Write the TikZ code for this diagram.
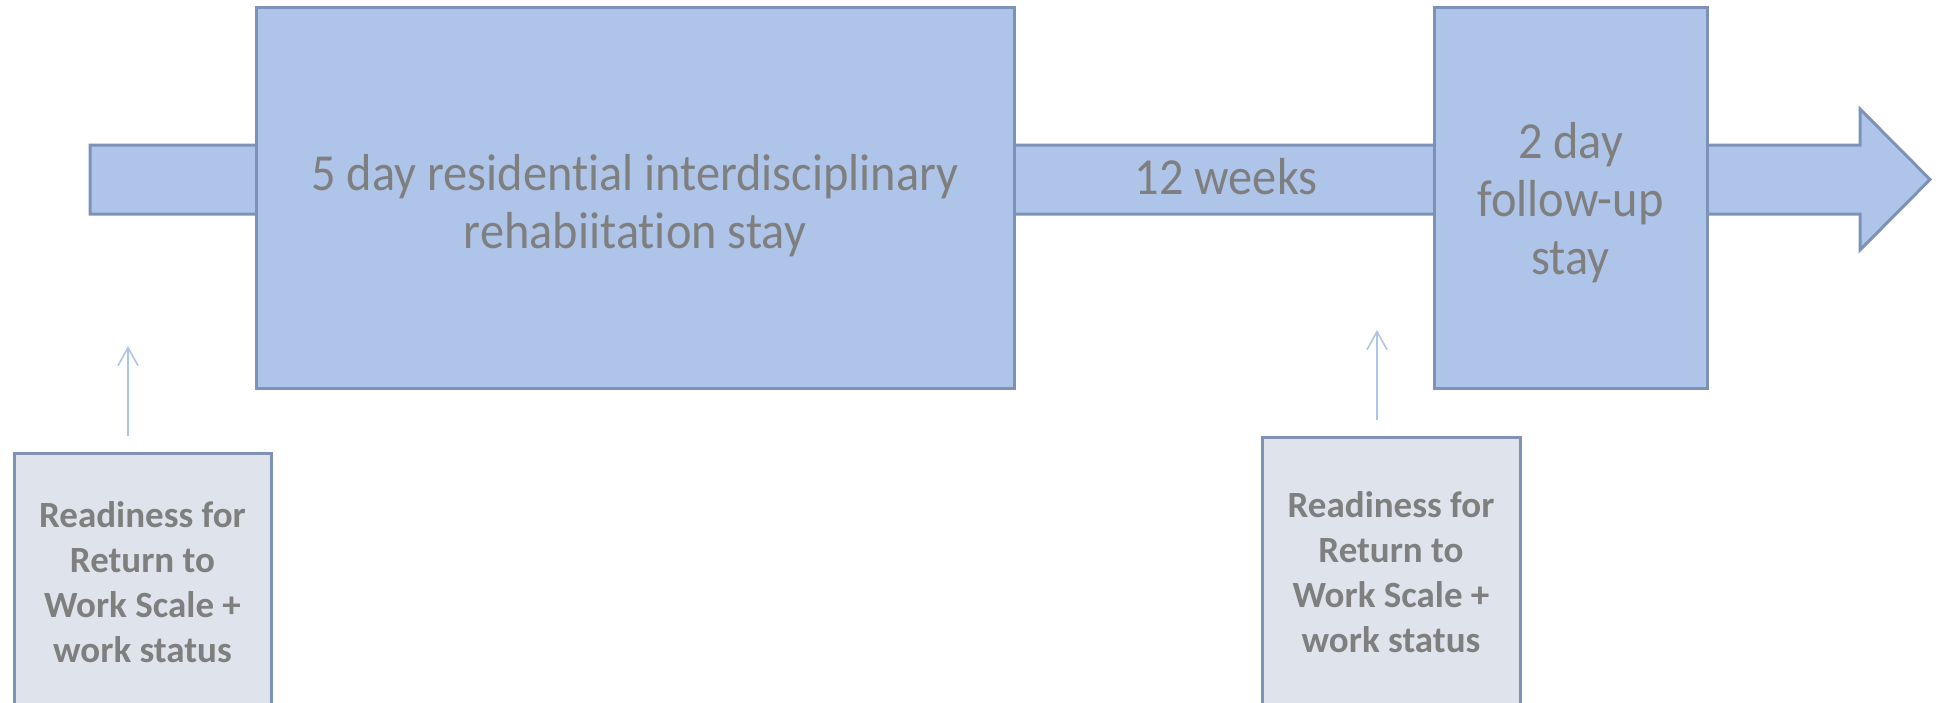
\documentclass[tikz,border=0pt]{standalone}
\usepackage{fontspec}
\setmainfont{Carlito}[Ligatures={NoCommon}]
\newfontfamily\stayfont{Carlito}[Ligatures={NoCommon}, FakeStretch=0.93]
\usetikzlibrary{arrows.meta}

\definecolor{stayfill}{RGB}{174,197,233}
\definecolor{stayline}{RGB}{126,146,184}
\definecolor{textgrey}{RGB}{127,127,127}
\definecolor{scalefill}{RGB}{222,227,236}

\tikzset{
	staybox/.style={draw=stayline, fill=stayfill, line width=1.5pt, inner sep=0pt},
	staytext/.style={align=center, text=textgrey, font=\stayfont\fontsize{26}{29}\selectfont},
	scalebox/.style={draw=stayline, fill=scalefill, line width=1.5pt, inner sep=0pt,
		align=center, text=textgrey, font=\fontsize{18.5}{22.5}\selectfont\bfseries},
	measure/.style={draw=stayfill, line width=0.8pt, -{Straight Barb[length=9pt,width=10pt]}}
}

\begin{document}
\begin{tikzpicture}[x=0.5pt, y=-0.5pt]
	\clip (0,0) rectangle (1942,702);

	% timeline arrow
	\draw[stayline, fill=stayfill, line width=1.5pt]
		(90,145) -- (1860,145) -- (1860,109) -- (1930,179.5) -- (1860,250) -- (1860,214) -- (90,214) -- cycle;

	% stays
	\node[staybox, minimum width=379pt, minimum height=190.5pt,
		label={[staytext, yshift=-4pt]center:5 day residential interdisciplinary\\rehabiitation stay}]
		(stay) at (635,197.5) {};
	\node[staybox, minimum width=136.5pt, minimum height=190.5pt,
		label={[staytext, yshift=-2.5pt]center:2 day\\follow-up\\stay}]
		(followup) at (1570.5,197.5) {};
	\node[staytext] (weeks) at (1226,177) {12 weeks};

	% measurements
	\node[scalebox, minimum width=128.5pt, minimum height=129pt] (rtwa) at (142.5,582)
		{Readiness for\\Return to\\Work Scale +\\work status};
	\node[scalebox, minimum width=129pt, minimum height=135pt] (rtwb) at (1391,572)
		{Readiness for\\Return to\\Work Scale +\\work status};

	\coordinate (tipa) at (128,346);
	\coordinate (tipb) at (1377,330);
	\draw[measure, shorten <=8pt] (rtwa.north -| tipa) -- (tipa);
	\draw[measure, shorten <=8pt] (rtwb.north -| tipb) -- (tipb);
\end{tikzpicture}
\end{document}
